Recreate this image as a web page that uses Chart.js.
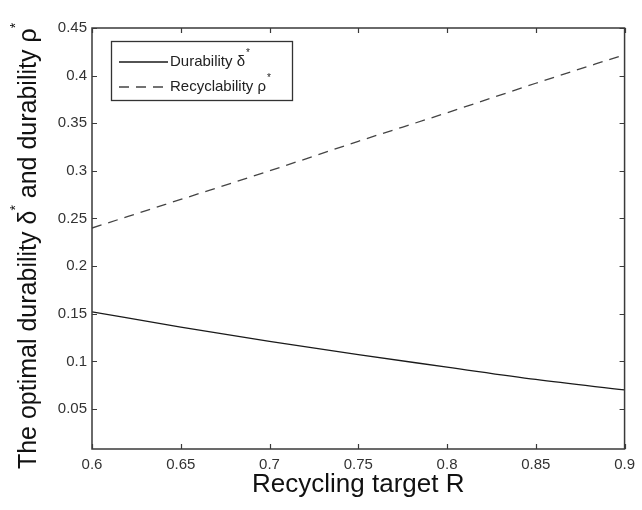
<!DOCTYPE html>
<html>
<head>
<meta charset="utf-8">
<script src="https://cdn.jsdelivr.net/npm/chart.js@4"></script>
<style>
html,body{margin:0;padding:0;background:#fff;}
#wrap{width:642px;height:510px;position:relative;}
</style>
</head>
<body>
<div id="wrap"><canvas id="c" width="642" height="510"></canvas></div>
<script>
// ---- data ----
const recyclingTarget = [0.6, 0.65, 0.7, 0.75, 0.8, 0.85, 0.9];
const durability      = [0.152, 0.136, 0.121, 0.107, 0.094, 0.081, 0.070];
const recyclability   = [0.240, 0.270, 0.300, 0.331, 0.361, 0.392, 0.422];
const xTickValues = [0.6, 0.65, 0.7, 0.75, 0.8, 0.85, 0.9];
const yTickValues = [0.05, 0.1, 0.15, 0.2, 0.25, 0.3, 0.35, 0.4, 0.45];
const seriesNames = ['Durability δ', 'Recyclability ρ'];
const xTitle = 'Recycling target R';
// y title pieces: [text, superscript?]
const yTitleParts = [['The optimal durability δ', false], ['*', true], [' and durability ρ', false], ['*', true]];

const FONT = 'Liberation Sans, Arial, sans-serif';

function drawRich(ctx, parts, size, supSize) {
  // measure total
  let total = 0;
  parts.forEach(([t, sup]) => {
    ctx.font = (sup ? supSize : size) + 'px ' + FONT;
    total += ctx.measureText(t).width;
  });
  let xpos = -total / 2;
  parts.forEach(([t, sup]) => {
    ctx.font = (sup ? supSize : size) + 'px ' + FONT;
    ctx.fillText(t, xpos, sup ? -size * 0.5 : 0);
    xpos += ctx.measureText(t).width;
  });
}

const framePlugin = {
  id: 'frame',
  afterDraw(chart) {
    const {ctx, chartArea: a, scales: {x, y}} = chart;
    ctx.save();
    ctx.strokeStyle = '#3a3a3a';
    ctx.lineWidth = 1.5;
    ctx.strokeRect(a.left, a.top, a.right - a.left, a.bottom - a.top);
    ctx.lineWidth = 1.2;
    const tl = 5;
    ctx.beginPath();
    xTickValues.forEach(v => {
      const px = Math.round(x.getPixelForValue(v)) + 0.5;
      ctx.moveTo(px, a.bottom); ctx.lineTo(px, a.bottom - tl);
      ctx.moveTo(px, a.top); ctx.lineTo(px, a.top + tl);
    });
    yTickValues.forEach(v => {
      const py = Math.round(y.getPixelForValue(v)) + 0.5;
      ctx.moveTo(a.left, py); ctx.lineTo(a.left + tl, py);
      ctx.moveTo(a.right, py); ctx.lineTo(a.right - tl, py);
    });
    ctx.stroke();

    // y-axis title with superscript asterisks
    ctx.save();
    ctx.translate(29, 246);
    ctx.rotate(-Math.PI / 2);
    ctx.fillStyle = '#111';
    ctx.textBaseline = 'middle';
    ctx.textAlign = 'left';
    drawRich(ctx, yTitleParts, 25, 14);
    ctx.restore();

    // legend inside plot
    const bx = 111, by = 41, bw = 181, bh = 59;
    ctx.fillStyle = '#fff';
    ctx.fillRect(bx, by, bw, bh);
    ctx.strokeStyle = '#333';
    ctx.lineWidth = 1.3;
    ctx.strokeRect(bx + 0.5, by + 0.5, bw, bh);
    chart.data.datasets.forEach((ds, i) => {
      const ly = by + 21 + i * 25;
      ctx.save();
      ctx.strokeStyle = ds.borderColor;
      ctx.lineWidth = ds.borderWidth;
      ctx.setLineDash(ds.borderDash || []);
      ctx.beginPath();
      ctx.moveTo(bx + 8, ly); ctx.lineTo(bx + 57, ly);
      ctx.stroke();
      ctx.restore();
      ctx.fillStyle = '#222';
      ctx.font = '15px ' + FONT;
      ctx.textBaseline = 'middle';
      ctx.textAlign = 'left';
      ctx.fillText(ds.label, bx + 59, ly);
      const w = ctx.measureText(ds.label).width;
      ctx.font = '10px ' + FONT;
      ctx.fillText('*', bx + 60 + w, ly - 9);
    });
    ctx.restore();
  }
};

new Chart(document.getElementById('c'), {
  type: 'line',
  data: {
    datasets: [
      {
        label: seriesNames[0],
        data: recyclingTarget.map((r, i) => ({x: r, y: durability[i]})),
        borderColor: '#1a1a1a',
        borderWidth: 1.3,
        pointRadius: 0,
        tension: 0.4,
        cubicInterpolationMode: 'monotone',
        fill: false
      },
      {
        label: seriesNames[1],
        data: recyclingTarget.map((r, i) => ({x: r, y: recyclability[i]})),
        borderColor: '#444',
        borderWidth: 1.3,
        borderDash: [10, 7],
        pointRadius: 0,
        tension: 0.4,
        cubicInterpolationMode: 'monotone',
        fill: false
      }
    ]
  },
  options: {
    responsive: false,
    animation: false,
    layout: {padding: {top: 28, right: 14, left: 0, bottom: 0}},
    plugins: {legend: {display: false}, tooltip: {enabled: false}},
    scales: {
      x: {
        type: 'linear',
        min: 0.6, max: 0.9,
        afterBuildTicks: s => { s.ticks = xTickValues.map(v => ({value: v})); },
        afterFit: s => { s.height = 61; },
        grid: {display: false, drawTicks: false},
        border: {display: false},
        ticks: {
          padding: 7,
          color: '#333',
          font: {family: FONT, size: 15},
          maxRotation: 0,
          callback: v => String(v)
        },
        title: {
          display: true,
          text: xTitle,
          color: '#111',
          font: {family: FONT, size: 26},
          padding: {top: 0, bottom: 10}
        }
      },
      y: {
        type: 'linear',
        min: 0.008, max: 0.45,
        afterBuildTicks: s => { s.ticks = yTickValues.map(v => ({value: v})); },
        afterFit: s => { s.width = 92; },
        grid: {display: false, drawTicks: false},
        border: {display: false},
        ticks: {
          padding: 5,
          color: '#333',
          font: {family: FONT, size: 15},
          callback: v => String(v)
        },
        title: {display: false}
      }
    }
  },
  plugins: [framePlugin]
});
</script>
</body>
</html>
